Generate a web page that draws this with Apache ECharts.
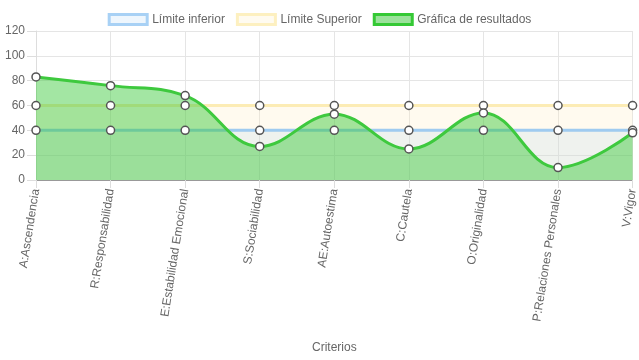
<!DOCTYPE html>
<html><head><meta charset="utf-8">
<script src="https://cdn.jsdelivr.net/npm/echarts@6/dist/echarts.min.js"></script>
<style>html,body{margin:0;padding:0;background:#fff}#c{width:639px;height:360px}</style>
</head><body><div id="c"></div>
<script>
const categories = ['A:Ascendencia','R:Responsabilidad','E:Estabilidad Emocional','S:Sociabilidad','AE:Autoestima','C:Cautela','O:Originalidad','P:Relaciones Personales','V:Vigor'];
const limiteInferior = [40,40,40,40,40,40,40,40,40];
const limiteSuperior = [60,60,60,60,60,60,60,60,60];
const resultados = [83,76,68,27,53,25,54,10,38];
const yTicks = {min:0, max:120, interval:20};

const font = 'Liberation Sans, Arial, sans-serif';
const pointStyle = {color:'#fff', borderColor:'#555', borderWidth:1.5};
const chart = echarts.init(document.getElementById('c'));
function points(name, data, z){
  return {name:name, type:'line', data:data, symbol:'circle', symbolSize:8, showSymbol:true,
    itemStyle:pointStyle, lineStyle:{width:0, opacity:0}, z:z, silent:true};
}
chart.setOption({
  animation:false,
  textStyle:{fontFamily:font},
  legend:{
    top:8, left:'center', icon:'rect', itemWidth:38, itemHeight:10, itemGap:11,
    textStyle:{color:'#666', fontSize:12, fontFamily:font},
    data:[
      {name:'Límite inferior', itemStyle:{color:'#eef6fd', borderColor:'#a8d1f5', borderWidth:3}},
      {name:'Límite Superior', itemStyle:{color:'#fffbf0', borderColor:'#fdf0c0', borderWidth:3}},
      {name:'Gráfica de resultados', itemStyle:{color:'#9be29b', borderColor:'#35c935', borderWidth:3}}
    ]
  },
  grid:{left:36, right:4, top:31, bottom:180},
  xAxis:{
    type:'category', data:categories, boundaryGap:false,
    name:'Criterios', nameLocation:'middle', nameGap:162,
    nameTextStyle:{color:'#666', fontSize:12, fontFamily:font},
    axisLine:{lineStyle:{color:'#999'}},
    axisTick:{show:true, length:8, lineStyle:{color:'#ddd'}},
    splitLine:{show:true, lineStyle:{color:'#e5e5e5'}},
    axisLabel:{rotate:81, color:'#666', fontSize:12, fontFamily:font, margin:9, interval:0}
  },
  yAxis:{
    type:'value', min:yTicks.min, max:yTicks.max, interval:yTicks.interval,
    axisLine:{show:true, lineStyle:{color:'#ddd'}},
    axisTick:{show:true, length:9, lineStyle:{color:'#ddd'}},
    splitLine:{lineStyle:{color:'#e5e5e5'}},
    axisLabel:{color:'#666', fontSize:12, fontFamily:font, margin:11}
  },
  series:[
    {name:'Límite inferior', type:'line', data:limiteInferior, showSymbol:false,
     itemStyle:{color:'#a8d1f5'}, lineStyle:{color:'#9fcbf0', width:3},
     areaStyle:{color:'rgba(160,200,240,0.17)', origin:'start', opacity:1}, z:2},
    {name:'Límite Superior', type:'line', data:limiteSuperior, showSymbol:false,
     itemStyle:{color:'#fdf0c0'}, lineStyle:{color:'#fcecb5', width:3},
     areaStyle:{color:'rgba(255,235,190,0.25)', origin:'start', opacity:1}, z:1},
    {name:'Gráfica de resultados', type:'line', data:resultados, smooth:0.4, showSymbol:false,
     itemStyle:{color:'#35c935'}, lineStyle:{color:'#3ec93e', width:3},
     areaStyle:{color:'rgba(50,200,50,0.45)', origin:'start', opacity:1}, z:3},
    points('Límite inferior', limiteInferior, 5),
    points('Límite Superior', limiteSuperior, 5),
    points('Gráfica de resultados', resultados, 6)
  ]
});
</script></body></html>
